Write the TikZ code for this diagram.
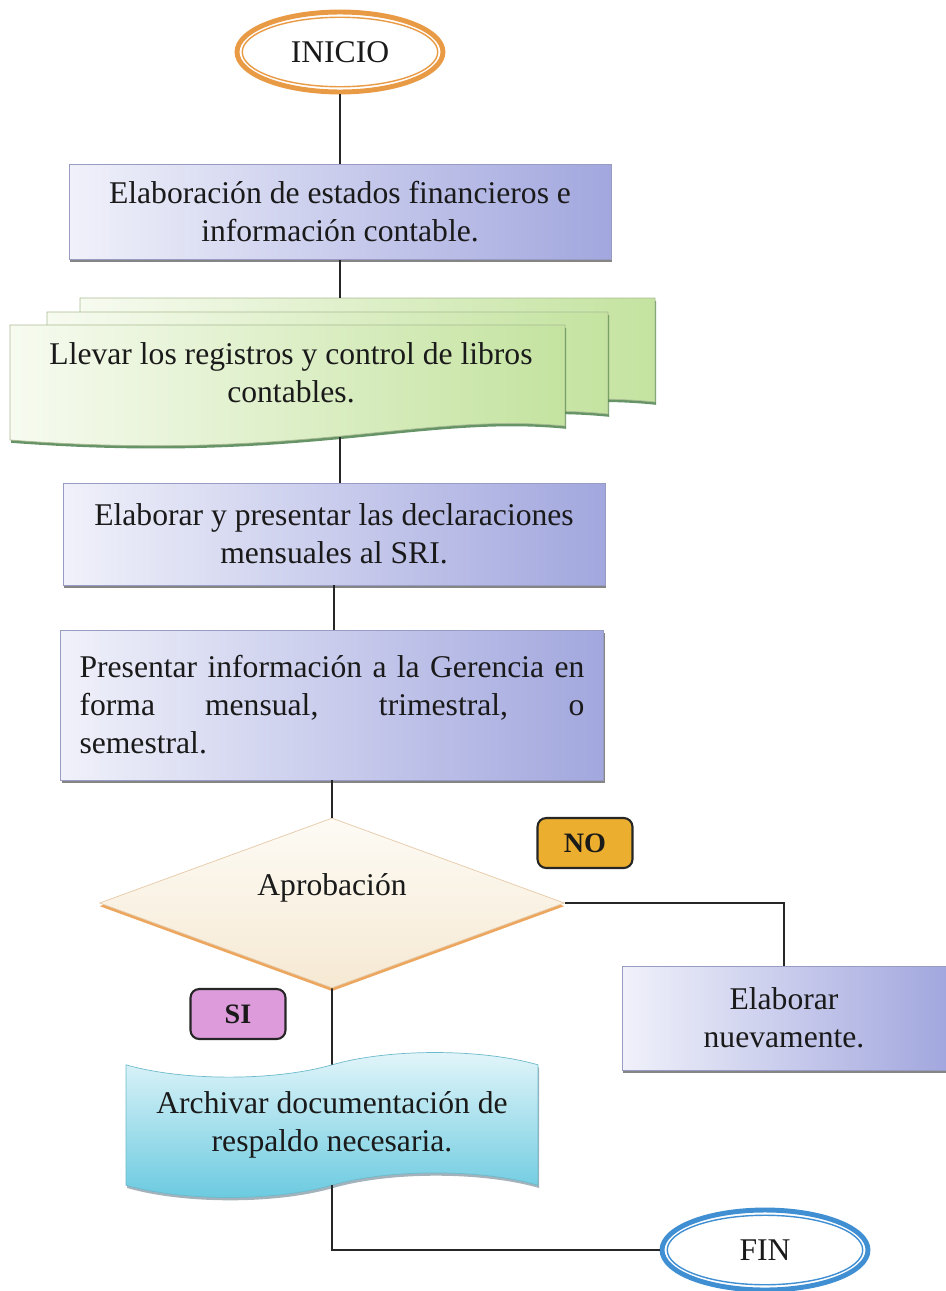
\documentclass[tikz,border=0pt]{standalone}
\usepackage{fontspec}
\setmainfont{Liberation Serif}
\definecolor{inkgray}{HTML}{1A1A1A}
\definecolor{ctorange}{HTML}{E99A45}
\definecolor{ctblue}{HTML}{3F8FD2}
\definecolor{boxlt}{HTML}{F0F1FA}
\definecolor{boxdk}{HTML}{A2A7DE}
\definecolor{grnlt}{HTML}{F7FBF0}
\definecolor{grndk}{HTML}{C4E3A0}
\definecolor{crmlt}{HTML}{FDFBF5}
\definecolor{crmdk}{HTML}{F6E9D3}
\definecolor{cynlt}{HTML}{E4F6FA}
\definecolor{cyndk}{HTML}{68C9DF}
\definecolor{nogold}{HTML}{EBAE2F}
\definecolor{sipink}{HTML}{DD9BDB}
\usepackage{tikz}
\usetikzlibrary{calc, positioning, shapes.geometric, shapes.symbols, shadows}

\begin{document}
\begin{tikzpicture}[x=0.02cm, y=-0.02cm,
  every node/.style={font=\fontsize{18}{21.6}\selectfont, text=inkgray},
  term/.style={ellipse, draw=#1, line width=2.8pt, fill=white,
               minimum width=4.12cm, minimum height=1.6cm},
  proc/.style={draw=boxdk!70!gray, left color=boxlt, right color=boxdk,
               align=center, inner sep=6pt,
               drop shadow={shadow xshift=0.8pt, shadow yshift=-1.6pt, fill=black!60, opacity=0.8}},
  sheet/.style={draw=grndk!60!gray, left color=grnlt, right color=grndk,
                drop shadow={shadow xshift=0.6pt, shadow yshift=-1.6pt, fill=green!30!black, opacity=0.6}},
  decision/.style={diamond, aspect=2.74, draw=crmdk!70!brown, top color=crmlt, bottom color=crmdk,
                   minimum width=9.3cm, minimum height=3.4cm, inner sep=0pt, text depth=0.75cm,
                   drop shadow={shadow xshift=0pt, shadow yshift=-1.8pt, fill=orange!60!brown, opacity=0.7}},
  archive/.style={tape, tape bend top=in and out, tape bend bottom=in and out, tape bend height=14pt,
                  draw=cyndk!80!gray, top color=cynlt, bottom color=cyndk, align=center,
                  minimum width=8.24cm, minimum height=2.9cm,
                  drop shadow={shadow xshift=0.6pt, shadow yshift=-1.6pt, fill=cyan!40!black, opacity=0.5}},
  tag/.style={draw=black!85, line width=1.2pt, rounded corners=5pt,
              font=\fontsize{16}{19}\selectfont\bfseries, minimum width=1.9cm, minimum height=1cm},
  link/.style={draw=black!85, line width=1pt}
]
\useasboundingbox (0,0) rectangle (946,1291);

\node[term=ctorange] (ini) at (340,52) {INICIO};
\draw[ctorange, line width=0.8pt] (ini.center) ellipse [x radius=1.955cm, y radius=0.695cm];

\node[proc, minimum width=10.84cm, minimum height=1.9cm] (a) at (340,212)
  {Elaboración de estados financieros e\\información contable.};

\path[sheet] (80,298) -- (655,298) -- (655,402) .. controls (520,388) and (400,430) .. (80,410) -- cycle;
\path[sheet] (47,312) -- (608,312) -- (608,414) .. controls (470,400) and (350,445) .. (47,424) -- cycle;
\path[sheet] (10,325) -- (565,325) -- (565,426) .. controls (420,412) and (300,462) .. (10,440) -- cycle;
\node[align=center] (b) at (291,373) {Llevar los registros y control de libros\\contables.};
\coordinate (btop) at (340,298);
\coordinate (bbot) at (340,437);

\node[proc, minimum width=10.84cm, minimum height=2.04cm] (c) at (334,534)
  {Elaborar y presentar las declaraciones\\mensuales al SRI.};

\node[proc, minimum width=10.86cm, minimum height=3cm, text width=10.1cm, align=justify] (d) at (332,705)
  {Presentar información a la Gerencia en\linebreak forma mensual, trimestral, o\linebreak semestral.};

\node[decision] (dia) at (332,903) {Aprobación};
\node[tag, fill=nogold] (no) at (585,843) {NO};

\node[proc, minimum width=6.48cm, minimum height=2.08cm] (e) at (784,1018) {Elaborar\\nuevamente.};
\node[tag, fill=sipink] (si) at (238,1014) {SI};

\node[archive] (f) at (332,1125) {Archivar documentación de\\respaldo necesaria.};

\node[term=ctblue] (fin) at (765,1250) {FIN};
\draw[ctblue, line width=0.8pt] (fin.center) ellipse [x radius=1.955cm, y radius=0.695cm];

\draw[link] (ini) -- (a);
\draw[link] (a) -- (btop);
\draw[link] (bbot) -- (bbot |- c.north);
\draw[link] (c) -- (c |- d.north);
\draw[link] (d) -- (dia);
\draw[link] (dia.east) -| (e.north);
\draw[link] (dia) -- (f);
\draw[link] (f.south) |- (fin.west);
\end{tikzpicture}
\end{document}
